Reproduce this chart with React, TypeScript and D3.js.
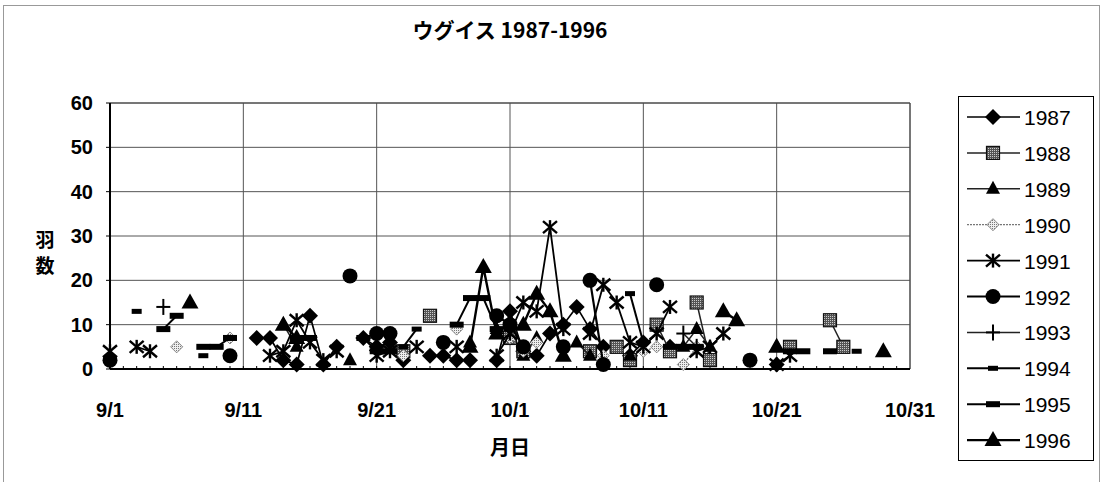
import React from "react";
import * as d3 from "d3";

// ---- data (date "m/d", count) ----
const years = ["1987","1988","1989","1990","1991","1992","1993","1994","1995","1996"];
const yTicks = [0,10,20,30,40,50,60];
const xTickLabels = ["9/1","9/11","9/21","10/1","10/11","10/21","10/31"];

const y1987: [string, number][] = [["9/12",7],["9/13",7],["9/14",2],["9/15",1],["9/16",12],["9/17",1],["9/18",5],["9/20",7],["9/21",5],["9/22",6],["9/23",2],["9/25",3],["9/26",3],["9/27",2],["9/28",2],["9/30",2],["10/1",13],["10/2",4],["10/3",3],["10/4",8],["10/5",10],["10/6",14],["10/7",9],["10/8",5],["10/10",3],["10/11",6],["10/13",5],["10/21",1]];
const y1988: [string, number][] = [["9/23",4],["9/25",12],["10/1",7],["10/2",4],["10/7",4],["10/9",5],["10/10",2],["10/12",10],["10/13",4],["10/15",15],["10/16",2],["10/22",5],["10/25",11],["10/26",5]];
const y1989: [string, number][] = [["9/14",10],["9/15",5],["9/19",2],["9/28",6],["9/30",9],["10/2",3],["10/3",7],["10/6",6],["10/7",3],["10/10",3],["10/14",5],["10/15",9],["10/16",5],["10/21",5]];
const y1990: [string, number][] = [["9/6",5],["9/10",7],["9/23",3],["9/27",9],["10/1",7],["10/2",4],["10/3",6],["10/8",3],["10/11",4],["10/12",5],["10/14",1],["10/15",5]];
const y1991: [string, number][] = [["9/1",4],["9/3",5],["9/4",4],["9/13",3],["9/14",4],["9/15",11],["9/16",6],["9/17",2],["9/18",4],["9/21",3],["9/22",4],["9/24",5],["9/27",5],["9/30",3],["10/1",8],["10/2",15],["10/3",13],["10/4",32],["10/5",9],["10/7",8],["10/8",19],["10/9",15],["10/10",6],["10/11",5],["10/12",8],["10/13",14],["10/15",4],["10/16",5],["10/17",8],["10/21",1],["10/22",3]];
const y1992: [string, number][] = [["9/1",2],["9/10",3],["9/19",21],["9/21",8],["9/22",8],["9/26",6],["9/30",12],["10/1",10],["10/2",5],["10/5",5],["10/7",20],["10/8",1],["10/12",19],["10/19",2]];
const y1993: [string, number][] = [["9/5",14],["10/14",8],["10/15",5]];
const y1994: [string, number][] = [["9/3",13],["9/8",3],["9/16",7],["9/23",5],["9/24",9],["10/10",17],["10/11",6],["10/27",4]];
const y1995: [string, number][] = [["9/5",9],["9/6",12],["9/8",5],["9/9",5],["9/10",7],["9/15",7],["9/16",7],["9/20",7],["9/21",4],["9/22",4],["9/27",10],["9/28",16],["9/29",16],["9/30",9],["10/13",5],["10/14",5],["10/15",5],["10/22",4],["10/23",4],["10/25",4]];
const y1996: [string, number][] = [["9/7",15],["9/14",10],["9/15",7],["9/28",5],["9/29",23],["9/30",8],["10/2",10],["10/3",17],["10/4",13],["10/5",3],["10/17",13],["10/18",11],["10/21",5],["10/29",4]];

const seriesData = [y1987,y1988,y1989,y1990,y1991,y1992,y1993,y1994,y1995,y1996];

type MarkerKind = "diamond"|"square"|"triSmall"|"diamondLight"|"star"|"circle"|"plus"|"dashS"|"dashL"|"triBig";
const styles: { marker: MarkerKind; stroke: string; width: number; dash?: string }[] = [
  { marker: "diamond", stroke: "#000", width: 1.7 },
  { marker: "square", stroke: "#222", width: 1.5 },
  { marker: "triSmall", stroke: "#222", width: 1.5 },
  { marker: "diamondLight", stroke: "#777", width: 1.2, dash: "2,1" },
  { marker: "star", stroke: "#000", width: 1.8 },
  { marker: "circle", stroke: "#000", width: 2.2 },
  { marker: "plus", stroke: "#222", width: 1.5 },
  { marker: "dashS", stroke: "#000", width: 2 },
  { marker: "dashL", stroke: "#000", width: 2 },
  { marker: "triBig", stroke: "#000", width: 2.4 },
];

const W = 1102, H = 482;
const plot = { l: 110, r: 910, t: 103, b: 369 };
const FONT = "'Liberation Sans', Arial, sans-serif";
const JFONT = "'Noto Sans CJK JP', sans-serif";

function parseDay(s: string): Date {
  const [m, d] = s.split("/").map(Number);
  return new Date(1996, m - 1, d);
}

function Marker({ kind, x, y }: { kind: MarkerKind; x: number; y: number }) {
  switch (kind) {
    case "diamond":
      return <path d={`M${x},${y-8}L${x+8},${y}L${x},${y+8}L${x-8},${y}Z`} fill="#000" />;
    case "diamondLight":
      return <path d={`M${x},${y-6}L${x+6},${y}L${x},${y+6}L${x-6},${y}Z`} fill="url(#lightDots)" stroke="#888" strokeWidth={1} />;
    case "square":
      return <rect x={x-6.5} y={y-6.5} width={13} height={13} fill="url(#darkDots)" stroke="#111" strokeWidth={1.2} />;
    case "triSmall":
      return <path d={`M${x},${y-8}L${x+7},${y+5}L${x-7},${y+5}Z`} fill="#000" />;
    case "triBig":
      return <path d={`M${x},${y-9}L${x+8.5},${y+6}L${x-8.5},${y+6}Z`} fill="#000" />;
    case "circle":
      return <circle cx={x} cy={y} r={7.5} fill="#000" />;
    case "star":
      return (
        <g stroke="#000" strokeWidth={2.4}>
          <line x1={x-7} y1={y-6} x2={x+7} y2={y+6} />
          <line x1={x-7} y1={y+6} x2={x+7} y2={y-6} />
          <line x1={x} y1={y-7} x2={x} y2={y+7} />
        </g>
      );
    case "plus":
      return (
        <g stroke="#000" strokeWidth={2}>
          <line x1={x-7} y1={y} x2={x+7} y2={y} />
          <line x1={x} y1={y-8} x2={x} y2={y+8} />
        </g>
      );
    case "dashS":
      return <rect x={x-5} y={y-2.5} width={10} height={5} fill="#000" />;
    case "dashL":
      return <rect x={x-7} y={y-3} width={14} height={6} fill="#000" />;
  }
}

export default function App() {
  const x = d3.scaleTime().domain([new Date(1996, 8, 1), new Date(1996, 9, 31)]).range([plot.l, plot.r]);
  const y = d3.scaleLinear().domain([0, 60]).range([plot.b, plot.t]);
  const dayMs = 86400000;
  const xTickDates = xTickLabels.map(parseDay);
  const allDays = d3.timeDay.range(new Date(1996, 8, 1), new Date(1996, 9, 31));

  const segmentsFor = (data: [string, number][]) => {
    const pts = data.map(([d, v]) => ({ t: parseDay(d), v }));
    const segs: { t: Date; v: number }[][] = [];
    let cur: { t: Date; v: number }[] = [];
    pts.forEach((p, i) => {
      if (i > 0 && Math.round((+p.t - +pts[i - 1].t) / dayMs) !== 1) {
        segs.push(cur);
        cur = [];
      }
      cur.push(p);
    });
    if (cur.length) segs.push(cur);
    return { pts, segs };
  };

  const line = d3.line<{ t: Date; v: number }>().x(d => x(d.t)).y(d => y(d.v));

  const legendTop = 117, legendStep = 35.9;

  return (
    <svg width={W} height={H} style={{ position: "absolute", left: 0, top: 0, background: "#fff" }}>
      <defs>
        <pattern id="darkDots" width={2} height={2} patternUnits="userSpaceOnUse">
          <rect width={2} height={2} fill="#555" />
          <rect width={1} height={1} fill="#ccc" />
        </pattern>
        <pattern id="lightDots" width={2} height={2} patternUnits="userSpaceOnUse">
          <rect width={2} height={2} fill="#eee" />
          <rect width={1} height={1} fill="#777" />
        </pattern>
      </defs>
      <rect x={3.5} y={5.5} width={1096} height={480} fill="#fff" stroke="#999" strokeWidth={1} />

      <text x={510} y={38} textAnchor="middle" fontFamily={JFONT} fontSize={21} fontWeight="bold">ウグイス 1987-1996</text>

      {/* gridlines */}
      {yTicks.map(t => (
        <line key={"gy" + t} x1={plot.l} x2={plot.r} y1={y(t)} y2={y(t)} stroke="#555" strokeWidth={1} />
      ))}
      {xTickDates.map((d, i) => (
        <line key={"gx" + i} x1={x(d)} x2={x(d)} y1={plot.t} y2={plot.b} stroke="#555" strokeWidth={1} />
      ))}
      <line x1={plot.l} x2={plot.r} y1={plot.t} y2={plot.t} stroke="#444" strokeWidth={1} />
      <line x1={plot.r} x2={plot.r} y1={plot.t} y2={plot.b} stroke="#444" strokeWidth={1} />
      {/* axes */}
      <line x1={plot.l} x2={plot.l} y1={plot.t} y2={plot.b} stroke="#000" strokeWidth={2} />
      <line x1={plot.l} x2={plot.r} y1={plot.b} y2={plot.b} stroke="#000" strokeWidth={2} />
      {allDays.map((d, i) => (
        <line key={"mt" + i} x1={x(d)} x2={x(d)} y1={plot.b} y2={plot.b - 3} stroke="#000" strokeWidth={1} />
      ))}
      {yTicks.map(t => (
        <line key={"yt" + t} x1={plot.l - 4} x2={plot.l} y1={y(t)} y2={y(t)} stroke="#000" strokeWidth={1} />
      ))}

      {/* tick labels */}
      {yTicks.map(t => (
        <text key={"yl" + t} x={93} y={y(t) + 7} textAnchor="end" fontFamily={FONT} fontSize={20} fontWeight="bold">{t}</text>
      ))}
      {xTickDates.map((d, i) => (
        <text key={"xl" + i} x={x(d)} y={417} textAnchor="middle" fontFamily={FONT} fontSize={20} fontWeight="bold">{xTickLabels[i]}</text>
      ))}
      <text x={45} y={247} textAnchor="middle" fontFamily={JFONT} fontSize={19} fontWeight="bold">羽</text>
      <text x={45} y={273} textAnchor="middle" fontFamily={JFONT} fontSize={19} fontWeight="bold">数</text>
      <text x={510} y={455} textAnchor="middle" fontFamily={JFONT} fontSize={20} fontWeight="bold">月日</text>

      {/* series */}
      {seriesData.map((data, si) => {
        const { pts, segs } = segmentsFor(data);
        const st = styles[si];
        return (
          <g key={"s" + si}>
            {segs.filter(s => s.length > 1).map((s, k) => (
              <path key={k} d={line(s) || ""} fill="none" stroke={st.stroke} strokeWidth={st.width} strokeDasharray={st.dash} />
            ))}
            {pts.map((p, k) => (
              <Marker key={k} kind={st.marker} x={x(p.t)} y={y(p.v)} />
            ))}
          </g>
        );
      })}

      {/* legend */}
      <rect x={958.5} y={96.5} width={135} height={364} fill="#fff" stroke="#000" strokeWidth={1} />
      {years.map((yr, i) => {
        const ly = legendTop + i * legendStep;
        const st = styles[i];
        return (
          <g key={"lg" + yr}>
            <line x1={967} x2={1020} y1={ly} y2={ly} stroke={st.stroke} strokeWidth={st.width} strokeDasharray={st.dash} />
            <Marker kind={st.marker} x={993} y={ly} />
            <text x={1024} y={ly + 8} fontFamily={FONT} fontSize={21}>{yr}</text>
          </g>
        );
      })}
    </svg>
  );
}
